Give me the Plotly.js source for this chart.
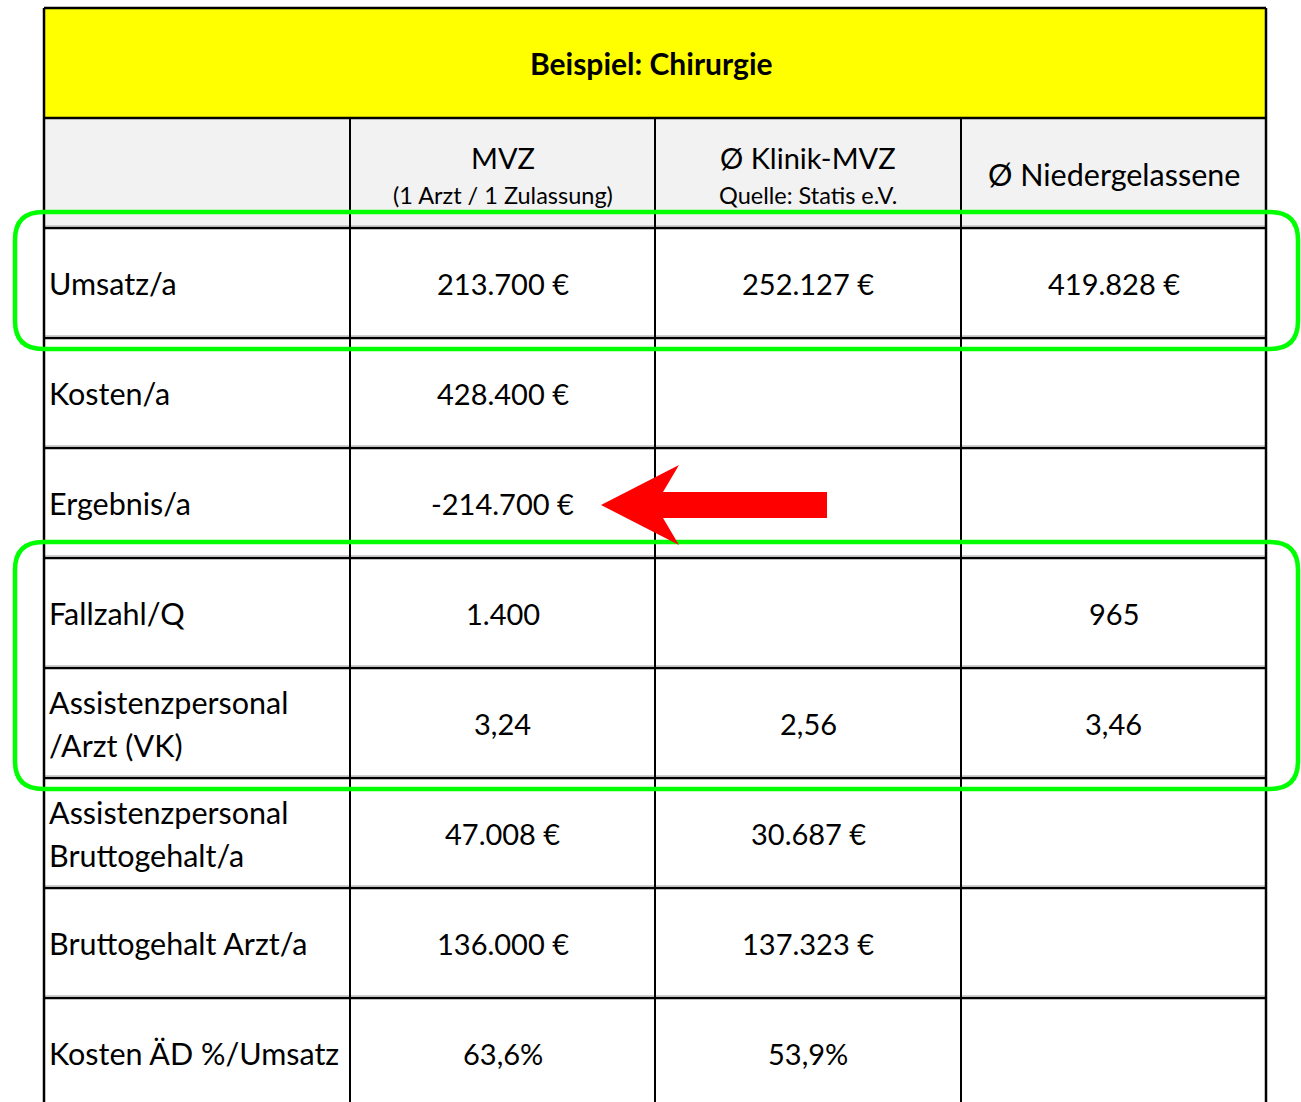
<!DOCTYPE html>
<html>
<head>
<meta charset="utf-8">
<script src="https://cdn.plot.ly/plotly-3.0.1.min.js"></script>
<style>html,body{margin:0;padding:0;background:#fff;}#chart{width:1301px;height:1102px;}</style>
</head>
<body>
<div id="chart"></div>
<script>
// ---- data ----
const tableTitle = "Beispiel: Chirurgie";
const colHeads = ["MVZ", "Ø Klinik-MVZ", "Ø Niedergelassene"];
const colSubs = ["(1 Arzt / 1 Zulassung)", "Quelle: Statis e.V.", ""];
const rowLabels = ["Umsatz/a", "Kosten/a", "Ergebnis/a", "Fallzahl/Q",
  "Assistenzpersonal\n/Arzt (VK)", "Assistenzpersonal\nBruttogehalt/a",
  "Bruttogehalt Arzt/a", "Kosten ÄD %/Umsatz"];
const mvzValues = ["213.700 €", "428.400 €", "-214.700 €", "1.400", "3,24", "47.008 €", "136.000 €", "63,6%"];
const klinikValues = ["252.127 €", "", "", "", "2,56", "30.687 €", "137.323 €", "53,9%"];
const niedergelasseneValues = ["419.828 €", "", "", "965", "3,46", "", "", ""];
const highlightedRows = [[0, 0], [3, 4]];   // green frames: first..last row index
const arrowRow = 2;                          // red arrow points to this row's MVZ value

// ---- layout geometry ----
const W = 1301, H = 1102;
const colX = [44, 350, 655, 961, 1266];
const titleTop = 8, titleBot = 118, headBot = 228, rowH = 110;
const FONT = "Lato, 'Open Sans', sans-serif";
const valueCols = [mvzValues, klinikValues, niedergelasseneValues];

const shapes = [];
const ann = [];
const rowTop = i => headBot + i * rowH;
const nRows = rowLabels.length;
const tableBot = rowTop(nRows) + 10;

// backgrounds
shapes.push({type:'rect', x0:colX[0], x1:colX[4], y0:titleTop, y1:titleBot, fillcolor:'#ffff00', line:{width:0}, layer:'below'});
shapes.push({type:'rect', x0:colX[0], x1:colX[4], y0:titleBot, y1:headBot, fillcolor:'#f2f2f2', line:{width:0}, layer:'below'});

// horizontal lines
const hLines = [titleTop, titleBot, headBot];
for (let i = 1; i < nRows; i++) hLines.push(rowTop(i));
hLines.forEach((y, k) => {
  if (k > 1) shapes.push({type:'line', x0:colX[0], x1:colX[4], y0:y-2.5, y1:y-2.5, line:{color:'#d0d0d0', width:1}});
  shapes.push({type:'line', x0:colX[0], x1:colX[4], y0:y, y1:y, line:{color:'#000', width:2.5}});
});
// vertical lines
shapes.push({type:'line', x0:colX[0], x1:colX[0], y0:titleTop, y1:tableBot, line:{color:'#000', width:2.5}});
shapes.push({type:'line', x0:colX[4], x1:colX[4], y0:titleTop, y1:tableBot, line:{color:'#000', width:2.5}});
for (let c = 1; c < 4; c++) shapes.push({type:'line', x0:colX[c], x1:colX[c], y0:titleBot, y1:tableBot, line:{color:'#000', width:2}});

// title
ann.push({x:651, y:63, text:'<b>'+tableTitle+'</b>', font:{family:FONT, size:30, color:'#000'}});

// headers
colHeads.forEach((h, c) => {
  const cx = (colX[c+1] + colX[c+2]) / 2;
  if (colSubs[c]) {
    ann.push({x:cx, y:157, text:h, font:{family:FONT, size:29, color:'#000'}});
    ann.push({x:cx, y:195, text:colSubs[c], font:{family:FONT, size:23.5, color:'#000'}});
  } else {
    ann.push({x:cx, y:174, text:h, font:{family:FONT, size:30.5, color:'#000'}});
  }
});

// rows
const LBL = 30.5;
rowLabels.forEach((lab, i) => {
  const cy = rowTop(i) + rowH / 2;
  const parts = lab.split('\n');
  if (parts.length === 1) {
    ann.push({x:47, y:cy, text:lab, xanchor:'left', font:{family:FONT, size:LBL, color:'#000'}});
  } else {
    ann.push({x:47, y:cy-21.5, text:parts[0], xanchor:'left', font:{family:FONT, size:LBL, color:'#000'}});
    ann.push({x:47, y:cy+21.5, text:parts[1], xanchor:'left', font:{family:FONT, size:LBL, color:'#000'}});
  }
  valueCols.forEach((vals, c) => {
    if (vals[i]) ann.push({x:(colX[c+1]+colX[c+2])/2, y:cy, text:vals[i], font:{family:FONT, size:29, color:'#000'}});
  });
});

// green rounded frames
function roundRect(x0, y0, x1, y1, r) {
  return `M${x0+r},${y0} L${x1-r},${y0} Q${x1},${y0} ${x1},${y0+r} L${x1},${y1-r} Q${x1},${y1} ${x1-r},${y1} ` +
         `L${x0+r},${y1} Q${x0},${y1} ${x0},${y1-r} L${x0},${y0+r} Q${x0},${y0} ${x0+r},${y0} Z`;
}
highlightedRows.forEach(([a, b]) => {
  const y0 = rowTop(a) - 16, y1 = rowTop(b + 1) + 11;
  shapes.push({type:'path', path:roundRect(15, y0, 1298, y1, 28), line:{color:'#00ff00', width:4.5}, fillcolor:'rgba(0,0,0,0)'});
});

// red arrow
{
  const cy = rowTop(arrowRow) + rowH / 2 + 2;
  const tip = 601, back = 679, notch = 663, tail = 827;
  const p = `M${tip},${cy} L${back},${cy-40} L${notch},${cy-13} L${tail},${cy-13} L${tail},${cy+13} L${notch},${cy+13} L${back},${cy+40} Z`;
  shapes.push({type:'path', path:p, fillcolor:'#ff0000', line:{width:0}});
}

const layout = {
  width: W, height: H,
  margin: {l:0, r:0, t:0, b:0},
  paper_bgcolor: '#fff', plot_bgcolor: '#fff',
  showlegend: false,
  xaxis: {range:[0, W], visible:false, fixedrange:true},
  yaxis: {range:[H, 0], visible:false, fixedrange:true},
  shapes: shapes,
  annotations: ann.map(a => Object.assign({xref:'x', yref:'y', showarrow:false, xanchor:'center', yanchor:'middle'}, a))
};

Plotly.newPlot('chart', [{x:[], y:[], type:'scatter', mode:'markers', hoverinfo:'skip'}], layout, {displayModeBar:false, staticPlot:true});
</script>
</body>
</html>
